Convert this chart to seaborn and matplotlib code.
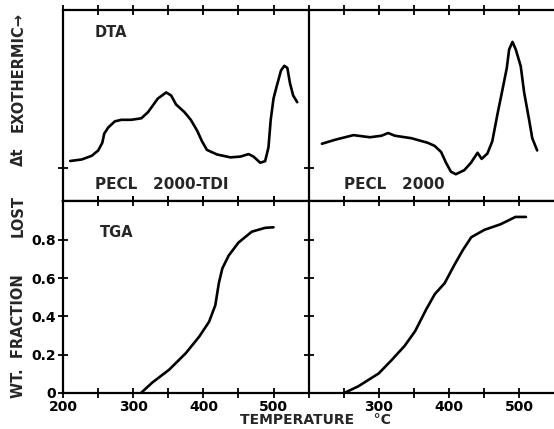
import matplotlib
matplotlib.use("Agg")
import matplotlib.pyplot as plt
import seaborn as sns

sns.set_style("white")
plt.rcParams["font.family"] = ["DejaVu Sans"]
plt.rcParams["font.weight"] = "bold"

# DTA, PECL 2000-TDI (left top)
dta_tdi_t = [210, 226.5, 240.7, 250, 255.8, 258.6, 264.3, 273.7, 283, 297, 311.5,
             321, 335, 347, 354, 361, 373, 382, 391, 398, 405, 419.5, 438.5, 452.7,
             464.4, 471.5, 481, 488, 492.8, 496, 500, 504.5, 510.7, 515.4, 519.7,
             523.5, 528, 533.8]
dta_tdi_v = [0.211, 0.219, 0.238, 0.266, 0.306, 0.354, 0.386, 0.418, 0.426, 0.426,
             0.434, 0.466, 0.537, 0.569, 0.553, 0.506, 0.466, 0.426, 0.37, 0.314,
             0.269, 0.245, 0.23, 0.234, 0.247, 0.234, 0.202, 0.21, 0.282, 0.426,
             0.537, 0.601, 0.684, 0.708, 0.697, 0.617, 0.553, 0.518]

# DTA, PECL 2000 (right top)
dta_pecl_t = [219, 238, 264, 287.5, 304, 313.5, 323, 346.6, 370, 379.7, 389, 396,
              403, 410, 422, 431.6, 441, 446.8, 455, 462, 469.5, 476.6, 482.7, 486,
              490.8, 495.5, 502.6, 507.4, 514.5, 519, 526]
dta_pecl_v = [0.301, 0.322, 0.346, 0.335, 0.343, 0.357, 0.343, 0.33, 0.306, 0.29,
              0.258, 0.202, 0.155, 0.142, 0.163, 0.202, 0.254, 0.222, 0.25, 0.314,
              0.458, 0.585, 0.697, 0.793, 0.833, 0.793, 0.705, 0.569, 0.426, 0.33,
              0.266]

# TGA, PECL 2000-TDI (left bottom)
tga_tdi_t = [311, 327, 351, 375, 394, 408, 417, 422, 427, 436, 450, 469, 488, 500]
tga_tdi_w = [0.0, 0.054, 0.121, 0.208, 0.294, 0.371, 0.458, 0.573, 0.65, 0.717,
             0.785, 0.842, 0.862, 0.865]

# TGA, PECL 2000 (right bottom)
tga_pecl_t = [251, 271, 300, 318, 337, 352, 368, 380, 394, 408, 420, 432, 451, 474,
              495, 510]
tga_pecl_w = [0.0, 0.035, 0.102, 0.17, 0.246, 0.323, 0.438, 0.516, 0.573, 0.669,
              0.746, 0.813, 0.852, 0.881, 0.919, 0.919]

x_ticks = [200, 250, 300, 350, 400, 450, 500]
x_labels_left = ["200", "", "300", "", "400", "", "500"]
x_labels_right = ["", "", "300", "", "400", "", "500"]
w_ticks = [0, 0.2, 0.4, 0.6, 0.8]
w_labels = ["0", "0.2", "0.4", "0.6", "0.8"]

fig, axes = plt.subplots(2, 2, figsize=(5.54, 4.29), dpi=100)
fig.subplots_adjust(left=0.114, right=1.0, top=0.977, bottom=0.084,
                    wspace=0, hspace=0)

curves = [
    (axes[0, 0], dta_tdi_t, dta_tdi_v),
    (axes[0, 1], dta_pecl_t, dta_pecl_v),
    (axes[1, 0], tga_tdi_t, tga_tdi_w),
    (axes[1, 1], tga_pecl_t, tga_pecl_w),
]
for ax, t, v in curves:
    sns.lineplot(x=t, y=v, ax=ax, color="black", linewidth=1.9)
    for ln in ax.get_lines():
        ln.set_solid_joinstyle("round")
        ln.set_solid_capstyle("round")
    ax.set_xlim(200, 550)
    ax.set_xticks(x_ticks)
    ax.spines["right"].set_visible(False)
    for s in ["top", "left", "bottom"]:
        ax.spines[s].set_linewidth(1.6)
        ax.spines[s].set_color("black")
    ax.tick_params(direction="inout", length=7, width=1.3, colors="black",
                   top=True, bottom=True, left=True, labelsize=10, pad=1.5)
    ax.set_xlabel("")
    ax.set_ylabel("")

for ax in axes[0]:
    ax.set_ylim(0, 1)
    ax.set_yticks([0.177])
    ax.set_yticklabels([])
    ax.set_xticklabels([])

for ax in axes[1]:
    ax.set_ylim(0, 1.0)
    ax.set_yticks(w_ticks)
axes[1, 0].set_yticklabels(w_labels)
axes[1, 1].set_yticklabels([])
axes[1, 0].set_xticklabels(x_labels_left)
axes[1, 1].set_xticklabels(x_labels_right)

axes[0, 0].text(0.13, 0.88, "DTA", transform=axes[0, 0].transAxes,
                fontsize=10.5, fontweight="bold", va="center")
axes[0, 0].text(0.13, 0.09, "PECL   2000-TDI", transform=axes[0, 0].transAxes,
                fontsize=11, fontweight="bold", va="center")
axes[0, 1].text(0.143, 0.09, "PECL   2000", transform=axes[0, 1].transAxes,
                fontsize=11, fontweight="bold", va="center")
axes[1, 0].text(0.15, 0.84, "TGA", transform=axes[1, 0].transAxes,
                fontsize=10.5, fontweight="bold", va="center")

fig.text(0.569, 0.004, "TEMPERATURE    °C", ha="center", va="bottom",
         fontsize=10, fontweight="bold")

# y label pieces, left side
for txt, yc in [("WT.  FRACTION", 0.217), ("LOST", 0.497), ("Δt", 0.634),
                ("EXOTHERMIC→", 0.832)]:
    fig.text(0.033, yc, txt, rotation=90, ha="center", va="center",
             fontsize=10.5, fontweight="bold")

fig.savefig("out.png", dpi=100)
